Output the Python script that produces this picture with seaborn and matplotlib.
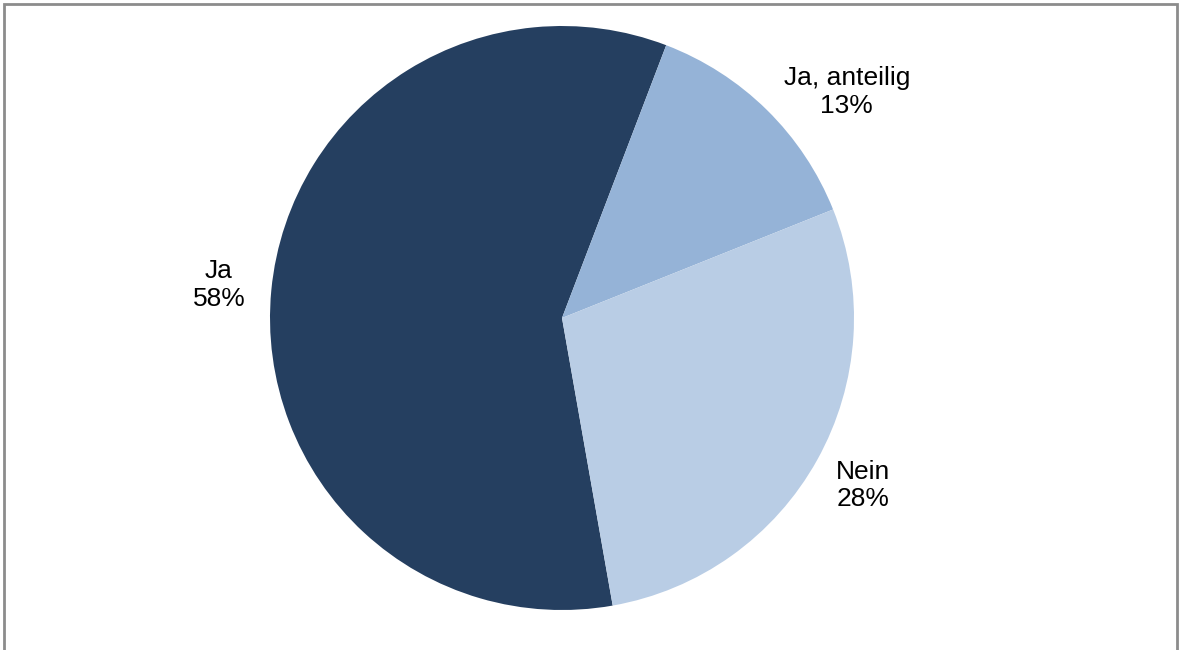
import matplotlib
matplotlib.use("Agg")
import matplotlib.pyplot as plt
import seaborn as sns
from matplotlib.patches import Rectangle

# slice data (clockwise from the bottom-right boundary)
labels = ["Ja", "Ja, anteilig", "Nein"]
shares = [58, 13, 28]
colors = ["#253F60", "#95B3D7", "#B9CDE5"]

sns.set_theme(style="white")
plt.rcParams["font.family"] = ["Liberation Sans", "DejaVu Sans"]

fig = plt.figure(figsize=(11.79, 6.5), dpi=100)
fig.patch.set_facecolor("white")

# square axes in pixel space so the pie sits where it does in the original
ax = fig.add_axes([270 / 1179, 40 / 650, 584 / 1179, 584 / 650])

palette = sns.color_palette(colors)
wedges, texts = ax.pie(
    shares,
    labels=[f"{l}\n{s}%" for l, s in zip(labels, shares)],
    colors=palette,
    startangle=-80,
    counterclock=False,
    radius=1.0,
    labeldistance=1.18,
    wedgeprops={"linewidth": 0},
    textprops={"fontsize": 19, "color": "black", "ha": "center", "va": "center"},
)
for t in texts:
    t.set_horizontalalignment("center")
    t.set_multialignment("center")

# Excel's "best fit" nudges the small slice label
texts[1].set_position((0.975, 0.775))

ax.set_xlim(-1, 1)
ax.set_ylim(-1, 1)
ax.set_aspect("auto")
ax.axis("off")

# chart-area border (bottom edge runs off the image)
fig.patches.append(Rectangle((4 / 1179, -0.05), 1173 / 1179, 0.05 + 646 / 650,
                             transform=fig.transFigure, fill=False,
                             edgecolor="#8c8c8c", linewidth=2))

fig.savefig("out.png", dpi=100)
